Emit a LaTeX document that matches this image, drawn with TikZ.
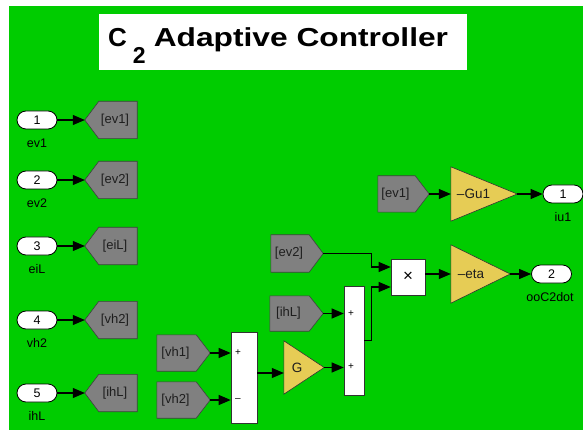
\documentclass[tikz,border=0pt]{standalone}
\usepackage{fontspec}
\setmainfont{Liberation Sans}
\usetikzlibrary{arrows.meta}
\definecolor{bg}{RGB}{0,204,0}
\definecolor{gotogray}{RGB}{128,128,128}
\definecolor{gainy}{RGB}{230,204,85}
\definecolor{txtgray}{RGB}{30,30,30}
\pgfdeclarelayer{back}
\pgfdeclarelayer{shapes}
\pgfsetlayers{back,shapes,main}
\tikzset{
  fs/.style={font=\fontsize{12.5}{12.5}\selectfont},
  port/.style={fs, draw=black, line width=0.8pt, fill=white, rounded corners=9pt,
    minimum width=40pt, minimum height=18pt, inner sep=0pt},
  plabel/.style={fs, inner sep=0pt},
  frame/.style={inner sep=0pt, minimum width=52pt, minimum height=37pt},
  btxt/.style={font=\fontsize{13}{13}\selectfont, inner sep=0pt, text=txtgray},
  blkdraw/.style={draw=black!75, line width=0.6pt, fill=gotogray},
  arr/.style={line width=1.1pt, -{Triangle[length=12pt,width=10pt]}},
  sumbox/.style={draw=black!80, fill=white, line width=0.6pt, inner sep=0pt},
  sgn/.style={font=\fontsize{10}{10}\selectfont, inner sep=0pt},
  gainbox/.style={inner sep=0pt},
  tri/.style={draw=black!80, fill=gainy, line width=0.6pt},
  gtxt/.style={font=\fontsize{13.5}{13.5}\selectfont, inner sep=0pt, text=txtgray},
}
\newcommand{\drawGotoL}[1]{\begin{pgfonlayer}{shapes}
  \draw[blkdraw] ([xshift=14pt]#1.north west) -- (#1.north east) -- (#1.south east)
    -- ([xshift=14pt]#1.south west) -- (#1.west) -- cycle;\end{pgfonlayer}}
\newcommand{\drawFromR}[1]{\begin{pgfonlayer}{shapes}
  \draw[blkdraw] (#1.north west) -- ([xshift=-14pt]#1.north east) -- (#1.east)
    -- ([xshift=-14pt]#1.south east) -- (#1.south west) -- cycle;\end{pgfonlayer}}
\newcommand{\drawGain}[1]{\begin{pgfonlayer}{shapes}
  \draw[tri] (#1.north west) -- (#1.east) -- (#1.south west) -- cycle;\end{pgfonlayer}}
\begin{document}
\begin{tikzpicture}[x=1pt, y=-1pt]
\useasboundingbox (0,0) rectangle (583,430);
\begin{pgfonlayer}{back}
\fill[white] (0,0) rectangle (583,430);
\fill[bg] (9,6) rectangle (583,430);
\fill[white] (99,14) rectangle (467,70);
\end{pgfonlayer}
% title
\node[anchor=base west, inner sep=0pt, font=\bfseries\fontsize{26}{26}\selectfont] (title) at (108,47)
  {C\hspace{6pt}\raisebox{-17pt}{\fontsize{23}{23}\selectfont 2}\hspace{8pt}\scalebox{1.22}[1]{Adaptive Controller}};

% left column: inports and gotos
\foreach \n/\y/\lab in {1/120/ev1, 2/180/ev2, 3/246/eiL, 4/320/vh2, 5/393/ihL}{
  \node[port] (in\n) at (37,\y) {\n};
  \node[plabel] (lin\n) at (37,\y+23) {\lab};
  \node[frame, label={[btxt, xshift=4pt]center:{[\lab]}}] (go\n) at (111,\y) {};
  \drawGotoL{go\n}
  \draw[arr] (in\n.east) -- (go\n.west);
}

% subtraction vh1 - vh2
\node[frame, minimum width=53pt, minimum height=36pt, label={[btxt, xshift=-8pt]center:{[vh1]}}] (fvh1) at (183.5,353) {};
\drawFromR{fvh1}
\node[frame, minimum width=53pt, minimum height=36pt, label={[btxt, xshift=-8pt]center:{[vh2]}}] (fvh2) at (183.5,400) {};
\drawFromR{fvh2}
\node[sumbox, minimum width=26pt, minimum height=91pt] (s1) at (244,377.5) {};
\node[sgn] (s1p) at (238,353) {+};
\node[sgn] (s1m) at (238,400) {\textendash};
\draw[arr] (fvh1.east) -- (fvh1.east -| s1.west);
\draw[arr] (fvh2.east) -- (fvh2.east -| s1.west);

% gain G
\node[gainbox, minimum width=40pt, minimum height=53pt, label={[gtxt, xshift=-7pt]center:G}] (G) at (304,367.5) {};
\drawGain{G}
\coordinate (Gin) at ([yshift=-5.5pt]G.west);
\draw[arr] (s1.east |- Gin) -- (Gin);

% sum ihL + G
\node[frame, minimum width=53pt, minimum height=35pt, label={[btxt, xshift=-8pt]center:{[ihL]}}] (fihL) at (296.5,313.5) {};
\drawFromR{fihL}
\node[sumbox, minimum width=20pt, minimum height=109pt] (s2) at (354,340.5) {};
\node[sgn] (s2p1) at (351,314) {+};
\node[sgn] (s2p2) at (351,367) {+};
\draw[arr] (fihL.east) -- (fihL.east -| s2.west);
\draw[arr] (G.east) -- (G.east -| s2.west);

% product
\node[frame, minimum width=52pt, minimum height=37pt, label={[btxt, xshift=-8pt]center:{[ev2]}}] (fev2) at (297,253.5) {};
\drawFromR{fev2}
\node[sumbox, minimum width=34pt, minimum height=36pt, font=\fontsize{17}{17}\selectfont] (prod) at (408,277) {×};
\coordinate (pin1) at ([yshift=10pt]prod.west);
\coordinate (pin2) at ([yshift=-10pt]prod.west);
\draw[arr] (fev2.east) -- ++(48,0) |- (pin1);
\draw[arr] (s2.east) -- ++(7,0) |- (pin2);

% -eta
\node[gainbox, minimum width=59pt, minimum height=58pt, label={[gtxt, xshift=-9.5pt]center:{\textendash eta}}] (eta) at (480.5,274) {};
\drawGain{eta}
\draw[arr] (prod.east |- eta.west) -- (eta.west);
\node[port] (out2) at (551.5,274) {2};
\node[plabel] (lout2) at (550,297) {ooC2dot};
\draw[arr] (eta.east) -- (out2.west);

% -Gu1
\node[frame, minimum width=51pt, minimum height=36pt, label={[btxt, xshift=-8pt]center:{[ev1]}}] (fev1) at (403.5,194) {};
\drawFromR{fev1}
\node[gainbox, minimum width=66pt, minimum height=54pt, label={[gtxt, xshift=-10.5pt]center:{\textendash Gu1}}] (gu) at (484,194) {};
\drawGain{gu}
\draw[arr] (fev1.east) -- (gu.west);
\node[port] (out1) at (563,194) {1};
\node[plabel] (lout1) at (563,217) {iu1};
\draw[arr] (gu.east) -- (out1.west);
\end{tikzpicture}
\end{document}
